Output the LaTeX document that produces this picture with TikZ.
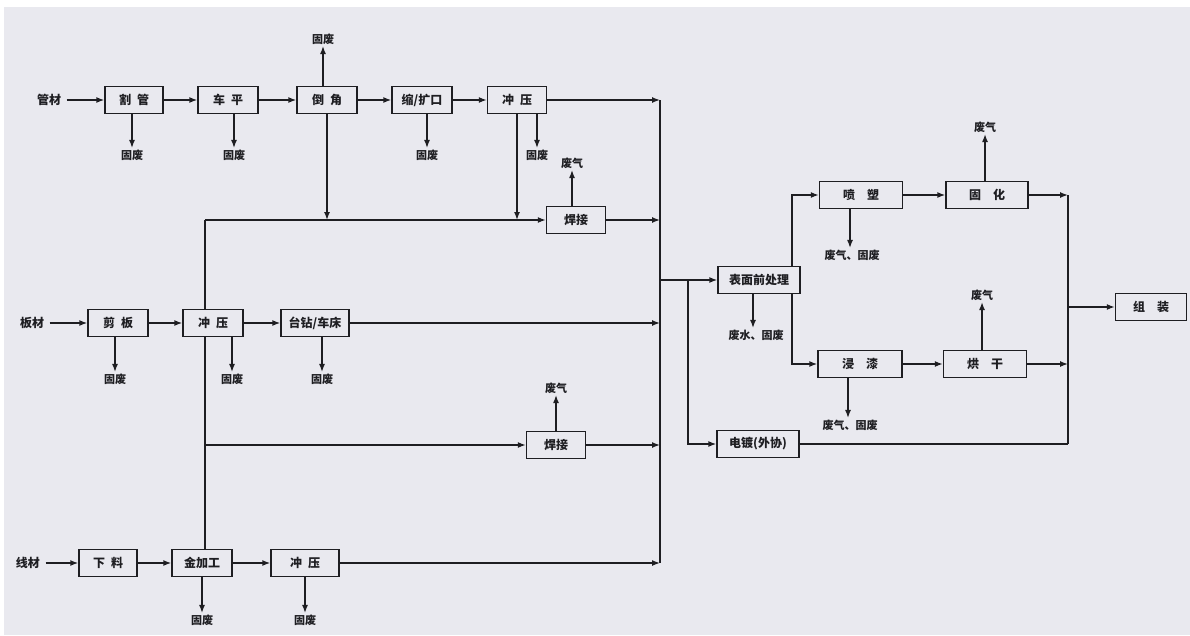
\documentclass[tikz,border=0pt]{standalone}
\usepackage{fontspec}
\setmainfont{Noto Sans CJK SC}
\usetikzlibrary{arrows.meta}
\definecolor{bg}{HTML}{E9E9EF}
\definecolor{ink}{HTML}{1E1E22}
\tikzset{
  box/.style={draw=ink, line width=1.4pt, minimum height=27pt, inner sep=0pt, font=\fontsize{12}{12}\selectfont\bfseries, text=ink},
  lbl/.style={font=\fontsize{11}{11}\selectfont\bfseries, inner sep=1.5pt, text=ink},
  arr/.style={draw=ink, line width=1.4pt, -{Latex[length=8pt,width=6pt]}},
  wire/.style={draw=ink, line width=1.4pt},
}
\begin{document}
\begin{tikzpicture}[x=1pt,y=-1pt]
\useasboundingbox (0,0) rectangle (1190,635);
\fill[bg] (0,0) rectangle (1190,635);
\fill[white] (0,0) rectangle (1190,7);
\fill[white] (0,0) rectangle (4,635);

% ---- row 1 ----
\node[lbl, font=\fontsize{12}{12}\selectfont\bfseries] (m1) at (49,100) {管材};
\node[box, minimum width=58pt] (g1) at (134,100) {割\hspace{0.5em}管};
\node[box, minimum width=60pt] (g2) at (228,100) {车\hspace{0.5em}平};
\node[box, minimum width=60pt] (g3) at (327,100) {倒\hspace{0.5em}角};
\node[box, minimum width=60pt] (g4) at (422,100) {缩/扩口};
\node[box, minimum width=59pt] (g5) at (517,100) {冲\hspace{0.5em}压};
\node[box, minimum width=59pt] (h1) at (576,220) {焊接};

% ---- row 2 ----
\node[lbl, font=\fontsize{12}{12}\selectfont\bfseries] (m2) at (32,323) {板材};
\node[box, minimum width=60pt] (b1) at (118,323) {剪\hspace{0.5em}板};
\node[box, minimum width=60pt] (b2) at (213,323) {冲\hspace{0.5em}压};
\node[box, minimum width=68pt] (b3) at (315,323) {台钻/车床};
\node[box, minimum width=59pt] (h2) at (556,445) {焊接};

% ---- row 4 ----
\node[lbl, font=\fontsize{12}{12}\selectfont\bfseries] (m3) at (28,563) {线材};
\node[box, minimum width=58pt] (x1) at (108,563) {下\hspace{0.5em}料};
\node[box, minimum width=60pt] (x2) at (202,563) {金加工};
\node[box, minimum width=68pt] (x3) at (305,563) {冲\hspace{0.5em}压};

% ---- right part ----
\node[box, minimum width=82pt] (s1) at (759,280) {表面前处理};
\node[box, minimum width=83pt] (s2) at (861,195) {喷\hspace{1em}塑};
\node[box, minimum width=82pt] (s3) at (987,195) {固\hspace{1em}化};
\node[box, minimum width=84pt] (s4) at (860,364) {浸\hspace{1em}漆};
\node[box, minimum width=83pt] (s5) at (985,364) {烘\hspace{1em}干};
\node[box, minimum width=82pt] (s6) at (758,444) {电镀(外协)};
\node[box, minimum width=71pt] (s7) at (1151,307) {组\hspace{1em}装};

% ---- waste labels ----
\node[lbl] (wg1) at (132,155) {固废};
\node[lbl] (wg2) at (234,155) {固废};
\node[lbl] (wg3) at (323,39) {固废};
\node[lbl] (wg4) at (427,155) {固废};
\node[lbl] (wg5) at (537,155) {固废};
\node[lbl] (wh1) at (572,163) {废气};
\node[lbl] (wb1) at (115,379) {固废};
\node[lbl] (wb2) at (232,379) {固废};
\node[lbl] (wb3) at (322,379) {固废};
\node[lbl] (wh2) at (556,388) {废气};
\node[lbl] (wx2) at (202,620) {固废};
\node[lbl] (wx3) at (305,620) {固废};
\node[lbl] (ws1) at (756,335) {废水、固废};
\node[lbl] (ws2) at (852,255) {废气、固废};
\node[lbl] (ws3) at (985,127) {废气};
\node[lbl] (ws4) at (850,425) {废气、固废};
\node[lbl] (ws5) at (982,295) {废气};

% ---- junction coordinates ----
\coordinate (ct) at (660,100);
\coordinate (cb) at (660,563);
\coordinate (jt) at (205,220);
\coordinate (jm) at (205,445);
\coordinate (cs) at (660,280);
\coordinate (bd) at (688,280);
\coordinate (sv) at (792,280);
\coordinate (rt) at (1068,195);
\coordinate (rb) at (1068,444);

% ---- row 1 flow ----
\draw[arr, shorten <=4pt] (m1) -- (g1);
\draw[arr] (g1) -- (g2);
\draw[arr] (g2) -- (g3);
\draw[arr] (g3) -- (g4);
\draw[arr] (g4) -- (g5);
\draw[arr] (g5) -- (ct);
\draw[wire] (ct) -- (cb);
\draw[arr] (g3.south) -- (g3.south |- jt);
\draw[arr] (g5.south) -- (g5.south |- jt);
\draw[arr] (jt) -- (h1);
\draw[arr] (h1) -- (h1 -| ct);

% ---- left vertical trunk ----
\draw[wire] (jt) -- (jt |- b2.north);
\draw[wire] (jt |- b2.south) -- (jt |- x2.north);
\draw[arr] (jm) -- (h2);
\draw[arr] (h2) -- (h2 -| ct);

% ---- row 2 flow ----
\draw[arr, shorten <=4pt] (m2) -- (b1);
\draw[arr] (b1) -- (b2);
\draw[arr] (b2) -- (b3);
\draw[arr] (b3) -- (b3 -| ct);

% ---- row 4 flow ----
\draw[arr, shorten <=4pt] (m3) -- (x1);
\draw[arr] (x1) -- (x2);
\draw[arr] (x2) -- (x3);
\draw[arr] (x3) -- (cb);

% ---- waste arrows ----
\draw[arr] (wg1 |- g1.south) -- (wg1.north);
\draw[arr] (wg2 |- g2.south) -- (wg2.north);
\draw[arr] (wg3 |- g3.north) -- (wg3.south);
\draw[arr] (wg4 |- g4.south) -- (wg4.north);
\draw[arr] (wg5 |- g5.south) -- (wg5.north);
\draw[arr] (wh1 |- h1.north) -- (wh1.south);
\draw[arr] (wb1 |- b1.south) -- (wb1.north);
\draw[arr] (wb2 |- b2.south) -- (wb2.north);
\draw[arr] (wb3 |- b3.south) -- (wb3.north);
\draw[arr] (wh2 |- h2.north) -- (wh2.south);
\draw[arr] (wx2 |- x2.south) -- (wx2.north);
\draw[arr] (wx3 |- x3.south) -- (wx3.north);

% ---- right part flow ----
\draw[arr] (cs) -- (s1);
\draw[arr] (bd) |- (s6);
\draw[arr] (sv |- s1.north) |- (s2);
\draw[arr] (sv |- s1.south) |- (s4);
\draw[arr] (s2) -- (s3);
\draw[arr] (s4) -- (s5);
\draw[arr] (s3) -- (rt);
\draw[arr] (s5) -- (s5 -| rt);
\draw[wire] (s6) -- (rb);
\draw[wire] (rt) -- (rb);
\draw[arr] (s7 -| rt) -- (s7);
\draw[arr] ([xshift=-3pt]ws1 |- s1.south) -- ([xshift=-3pt]ws1.north);
\draw[arr] ([xshift=-2pt]ws2 |- s2.south) -- ([xshift=-2pt]ws2.north);
\draw[arr] ([xshift=-2pt]ws4 |- s4.south) -- ([xshift=-2pt]ws4.north);
\draw[arr] (ws3 |- s3.north) -- (ws3.south);
\draw[arr] (ws5 |- s5.north) -- (ws5.south);
\end{tikzpicture}
\end{document}
